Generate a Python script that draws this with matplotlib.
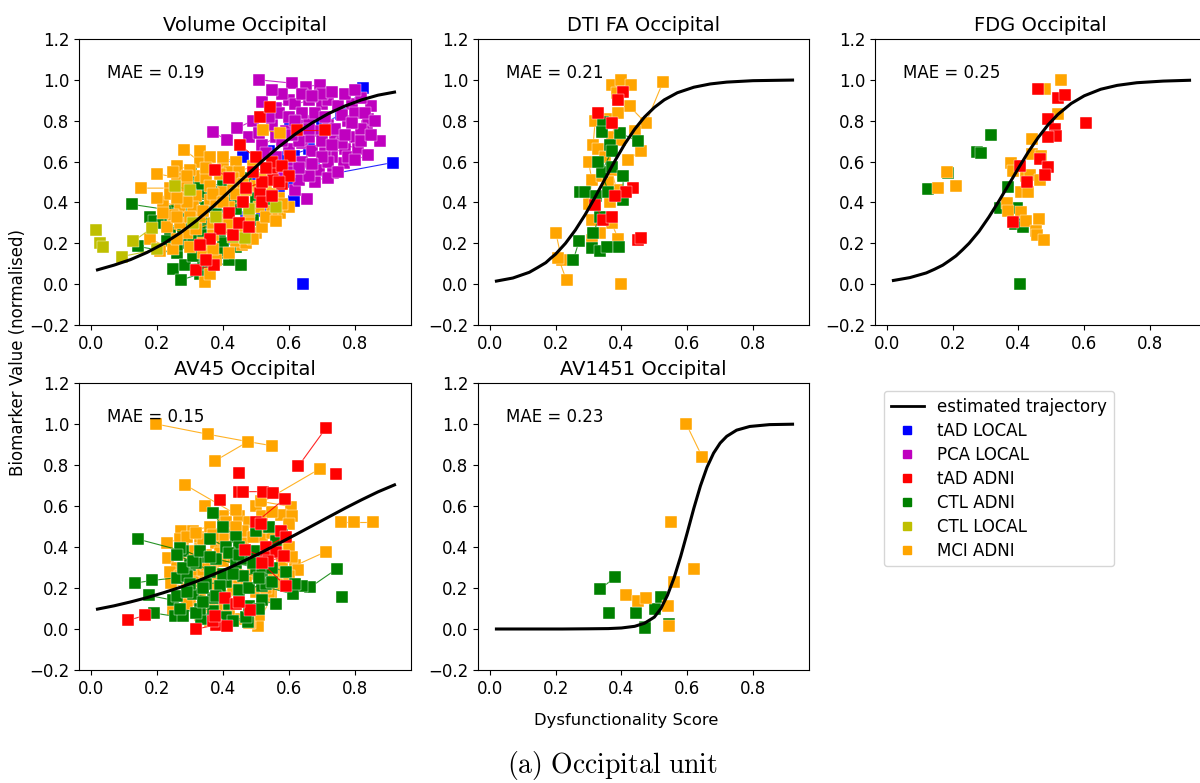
import matplotlib.pyplot as plt
from matplotlib.lines import Line2D

# ---- estimated trajectories ----
vol_curve_x = [0.02, 0.07, 0.12, 0.17, 0.22, 0.27, 0.32, 0.37, 0.42, 0.47,
               0.52, 0.57, 0.62, 0.67, 0.72, 0.77, 0.82, 0.87, 0.92]
vol_curve_y = [0.070, 0.093, 0.120, 0.155, 0.198, 0.250, 0.311, 0.380, 0.455, 0.530,
               0.604, 0.673, 0.735, 0.789, 0.835, 0.872, 0.902, 0.925, 0.940]

dti_curve_x = [0.02, 0.07, 0.12, 0.145, 0.17, 0.185, 0.20, 0.23, 0.26, 0.29, 0.32, 0.35, 0.38,
               0.41, 0.44, 0.47, 0.50, 0.53, 0.57, 0.62, 0.67, 0.72, 0.80, 0.92]
dti_curve_y = [0.015, 0.030, 0.058, 0.081, 0.105, 0.127, 0.147, 0.200, 0.265, 0.341, 0.426, 0.515, 0.603,
               0.686, 0.758, 0.818, 0.865, 0.902, 0.937, 0.964, 0.980, 0.989, 0.996, 0.999]

fdg_curve_x = [0.02, 0.07, 0.12, 0.145, 0.17, 0.19, 0.21, 0.23, 0.25, 0.28, 0.31, 0.34, 0.37, 0.40,
               0.43, 0.46, 0.49, 0.52, 0.56, 0.60, 0.65, 0.70, 0.76, 0.84, 0.92]
fdg_curve_y = [0.018, 0.032, 0.055, 0.073, 0.093, 0.115, 0.138, 0.168, 0.200, 0.258, 0.328, 0.405, 0.486,
               0.568, 0.647, 0.718, 0.780, 0.831, 0.884, 0.922, 0.954, 0.973, 0.986, 0.994, 0.998]

av45_curve_x = [0.02, 0.07, 0.12, 0.17, 0.22, 0.27, 0.32, 0.37, 0.42, 0.47,
                0.52, 0.57, 0.62, 0.67, 0.72, 0.77, 0.82, 0.87, 0.92]
av45_curve_y = [0.097, 0.113, 0.132, 0.153, 0.177, 0.203, 0.232, 0.265, 0.299, 0.337,
                0.376, 0.418, 0.460, 0.503, 0.546, 0.589, 0.630, 0.669, 0.703]

av1451_curve_x = [0.02, 0.12, 0.22, 0.30, 0.36, 0.40, 0.44, 0.47, 0.50, 0.52, 0.54, 0.56,
                  0.58, 0.60, 0.62, 0.64, 0.66, 0.68, 0.70, 0.72, 0.75, 0.79, 0.85, 0.92]
av1451_curve_y = [0.000, 0.000, 0.000, 0.001, 0.002, 0.005, 0.013, 0.028, 0.058, 0.100, 0.165, 0.250,
                  0.354, 0.470, 0.589, 0.698, 0.789, 0.858, 0.907, 0.940, 0.970, 0.988, 0.997, 0.999]

# ---- subjects: each inner list is one subject's visits (x, y) ----
vol_ctl_local = [[(0.015, 0.265)], [(0.028, 0.20), (0.038, 0.18)], [(0.094, 0.135), (0.20, 0.17)],
                 [(0.129, 0.21), (0.185, 0.275)], [(0.255, 0.48), (0.30, 0.46)],
                 [(0.43, 0.23), (0.467, 0.225)], [(0.48, 0.37), (0.56, 0.38)], [(0.31, 0.30), (0.38, 0.33)]]
vol_ctl_adni = [[(0.126, 0.39), (0.25, 0.36)], [(0.142, 0.185), (0.26, 0.15)],
                [(0.178, 0.33), (0.192, 0.31), (0.30, 0.30)], [(0.25, 0.073), (0.273, 0.02), (0.33, 0.05)],
                [(0.284, 0.095), (0.34, 0.10)], [(0.36, 0.055), (0.419, 0.12), (0.455, 0.095)],
                [(0.304, 0.55), (0.34, 0.50), (0.40, 0.48)], [(0.26, 0.40), (0.32, 0.42), (0.36, 0.38)],
                [(0.28, 0.32), (0.35, 0.30), (0.41, 0.34)], [(0.24, 0.25), (0.30, 0.24), (0.33, 0.20)],
                [(0.37, 0.45), (0.43, 0.42), (0.46, 0.44)], [(0.30, 0.36), (0.38, 0.35), (0.44, 0.37)],
                [(0.27, 0.47), (0.35, 0.46)], [(0.39, 0.25), (0.45, 0.28)], [(0.49, 0.315), (0.43, 0.30)],
                [(0.33, 0.26), (0.40, 0.20), (0.36, 0.17)], [(0.22, 0.30), (0.28, 0.27)],
                [(0.42, 0.50), (0.47, 0.52)], [(0.31, 0.14), (0.35, 0.12)], [(0.50, 0.42), (0.54, 0.40)],
                [(0.24, 0.33), (0.27, 0.35)], [(0.29, 0.42), (0.33, 0.44)], [(0.32, 0.33), (0.35, 0.38)],
                [(0.28, 0.20), (0.31, 0.22)], [(0.38, 0.40), (0.41, 0.43)], [(0.34, 0.24), (0.37, 0.27)],
                [(0.30, 0.50), (0.33, 0.49)], [(0.23, 0.21), (0.26, 0.19)], [(0.40, 0.15), (0.44, 0.18)]]
vol_mci_adni = [[(0.283, 0.657), (0.33, 0.60), (0.40, 0.58)], [(0.199, 0.54), (0.27, 0.52)],
                [(0.153, 0.47), (0.24, 0.47), (0.30, 0.44)], [(0.18, 0.22), (0.25, 0.17), (0.21, 0.16)],
                [(0.346, 0.01), (0.36, 0.05)], [(0.572, 0.347), (0.60, 0.38), (0.55, 0.36)],
                [(0.458, 0.19), (0.44, 0.21)], [(0.523, 0.755), (0.574, 0.74)],
                [(0.22, 0.40), (0.27, 0.38), (0.25, 0.34)], [(0.23, 0.28), (0.29, 0.25), (0.26, 0.22)],
                [(0.33, 0.53), (0.37, 0.56), (0.35, 0.52)], [(0.40, 0.62), (0.44, 0.60), (0.42, 0.55)],
                [(0.28, 0.45), (0.32, 0.43), (0.36, 0.41)], [(0.38, 0.40), (0.42, 0.38), (0.46, 0.41)],
                [(0.30, 0.18), (0.34, 0.20), (0.37, 0.24)], [(0.41, 0.27), (0.44, 0.30), (0.48, 0.33)],
                [(0.50, 0.48), (0.53, 0.45), (0.57, 0.42)], [(0.45, 0.55), (0.49, 0.58), (0.52, 0.52)],
                [(0.26, 0.58), (0.30, 0.56)], [(0.33, 0.33), (0.37, 0.30), (0.32, 0.27)],
                [(0.47, 0.20), (0.50, 0.25), (0.49, 0.22)], [(0.36, 0.48), (0.40, 0.45), (0.43, 0.47)],
                [(0.24, 0.44), (0.20, 0.42)], [(0.55, 0.44), (0.58, 0.39)], [(0.38, 0.12), (0.42, 0.15)],
                [(0.33, 0.65), (0.36, 0.62)], [(0.26, 0.50), (0.29, 0.48)], [(0.31, 0.38), (0.34, 0.36)],
                [(0.37, 0.44), (0.40, 0.40)], [(0.43, 0.52), (0.46, 0.49)], [(0.27, 0.30), (0.30, 0.33)],
                [(0.34, 0.15), (0.37, 0.17)], [(0.44, 0.44), (0.47, 0.46)], [(0.25, 0.55), (0.29, 0.53)],
                [(0.22, 0.35), (0.26, 0.33)], [(0.39, 0.32), (0.42, 0.30)], [(0.51, 0.38), (0.48, 0.36)],
                [(0.29, 0.40), (0.26, 0.42)], [(0.35, 0.57), (0.39, 0.54)], [(0.46, 0.25), (0.52, 0.28)],
                [(0.53, 0.33), (0.56, 0.31)]]
vol_tad_adni = [[(0.513, 0.82), (0.543, 0.866)], [(0.452, 0.68), (0.50, 0.62)], [(0.376, 0.56), (0.42, 0.52)],
                [(0.624, 0.755), (0.71, 0.755)], [(0.604, 0.625), (0.55, 0.57)],
                [(0.32, 0.07), (0.372, 0.095), (0.35, 0.12)], [(0.513, 0.445), (0.553, 0.51), (0.58, 0.49)],
                [(0.39, 0.27), (0.43, 0.24)], [(0.47, 0.47), (0.52, 0.50)], [(0.55, 0.60), (0.58, 0.58)],
                [(0.42, 0.35), (0.46, 0.40)], [(0.49, 0.55), (0.53, 0.57)], [(0.45, 0.30), (0.48, 0.28)],
                [(0.52, 0.40), (0.55, 0.43)], [(0.60, 0.53), (0.57, 0.50)], [(0.36, 0.22), (0.33, 0.19)]]
vol_tad_local = [[(0.826, 0.962), (0.758, 0.832), (0.70, 0.78)], [(0.914, 0.595), (0.60, 0.50)],
                 [(0.642, 0.0)], [(0.604, 0.804), (0.65, 0.72)], [(0.614, 0.625), (0.634, 0.527), (0.58, 0.55)],
                 [(0.675, 0.576), (0.62, 0.56)], [(0.614, 0.405), (0.56, 0.42)], [(0.40, 0.59), (0.46, 0.62)],
                 [(0.47, 0.33), (0.43, 0.22)], [(0.50, 0.62), (0.54, 0.65)], [(0.44, 0.45), (0.50, 0.50)],
                 [(0.52, 0.36), (0.57, 0.44)], [(0.48, 0.27), (0.41, 0.31)], [(0.58, 0.62), (0.66, 0.66)]]
vol_pca_local = [[(0.51, 1.0), (0.609, 0.984)], [(0.652, 0.967), (0.693, 0.976)], [(0.37, 0.744), (0.412, 0.706)],
                 [(0.442, 0.763), (0.49, 0.80)], [(0.655, 0.416), (0.62, 0.46)], [(0.877, 0.70), (0.80, 0.72)],
                 [(0.836, 0.772), (0.78, 0.80)], [(0.766, 0.592), (0.73, 0.62)], [(0.735, 0.543), (0.68, 0.50)],
                 [(0.52, 0.89), (0.56, 0.86), (0.60, 0.90)], [(0.62, 0.88), (0.66, 0.90), (0.70, 0.88)],
                 [(0.72, 0.90), (0.75, 0.87), (0.79, 0.88)], [(0.80, 0.84), (0.84, 0.81), (0.82, 0.76)],
                 [(0.55, 0.78), (0.59, 0.75), (0.63, 0.78)], [(0.66, 0.80), (0.69, 0.75), (0.72, 0.78)],
                 [(0.74, 0.70), (0.77, 0.66), (0.71, 0.64)], [(0.60, 0.66), (0.64, 0.69), (0.67, 0.65)],
                 [(0.56, 0.72), (0.52, 0.68)], [(0.78, 0.62), (0.81, 0.66), (0.76, 0.69)],
                 [(0.69, 0.56), (0.72, 0.60)], [(0.64, 0.60), (0.61, 0.57)], [(0.57, 0.84), (0.54, 0.82)],
                 [(0.85, 0.87), (0.82, 0.91)], [(0.63, 0.51), (0.66, 0.53)], [(0.48, 0.72), (0.51, 0.74)],
                 [(0.70, 0.93), (0.73, 0.94)], [(0.58, 0.93), (0.55, 0.95)], [(0.60, 0.82), (0.64, 0.84)],
                 [(0.68, 0.84), (0.71, 0.82)], [(0.76, 0.83), (0.79, 0.79)], [(0.74, 0.76), (0.77, 0.73)],
                 [(0.70, 0.70), (0.73, 0.68)], [(0.66, 0.72), (0.63, 0.70)], [(0.58, 0.70), (0.61, 0.73)],
                 [(0.82, 0.70), (0.85, 0.73)], [(0.80, 0.61), (0.84, 0.63)], [(0.70, 0.62), (0.67, 0.59)],
                 [(0.72, 0.52), (0.75, 0.55)], [(0.60, 0.55), (0.63, 0.57)], [(0.53, 0.64), (0.56, 0.62)],
                 [(0.77, 0.93), (0.80, 0.95)], [(0.64, 0.93), (0.67, 0.92)], [(0.83, 0.84), (0.86, 0.80)],
                 [(0.54, 0.54), (0.58, 0.52)], [(0.62, 0.80), (0.66, 0.76)]]

dti_mci_adni = [[(0.201, 0.25), (0.218, 0.12)], [(0.208, 0.13), (0.233, 0.018)], [(0.40, 0.0)],
                [(0.39, 0.222), (0.37, 0.30)], [(0.526, 0.989), (0.474, 0.788)],
                [(0.37, 0.976), (0.40, 1.0), (0.43, 0.976)], [(0.385, 0.935), (0.425, 0.87), (0.474, 0.788)],
                [(0.44, 0.75), (0.46, 0.654), (0.42, 0.61)], [(0.314, 0.68), (0.32, 0.80), (0.355, 0.81)],
                [(0.39, 0.84), (0.37, 0.72), (0.395, 0.706)], [(0.30, 0.60), (0.31, 0.51), (0.30, 0.39)],
                [(0.31, 0.315), (0.334, 0.25), (0.31, 0.217)], [(0.37, 0.56), (0.385, 0.462), (0.365, 0.40)],
                [(0.33, 0.66), (0.35, 0.62)], [(0.34, 0.53), (0.36, 0.50)]]
dti_ctl_adni = [[(0.274, 0.453), (0.289, 0.453)], [(0.254, 0.12), (0.271, 0.21)],
                [(0.309, 0.176), (0.334, 0.163), (0.355, 0.184)], [(0.392, 0.184)],
                [(0.344, 0.796), (0.34, 0.747)], [(0.365, 0.68), (0.37, 0.65), (0.34, 0.55)],
                [(0.395, 0.74), (0.45, 0.70)], [(0.37, 0.575), (0.405, 0.527), (0.405, 0.413)],
                [(0.324, 0.43), (0.334, 0.33), (0.314, 0.25)], [(0.33, 0.60), (0.36, 0.45)]]
dti_tad_adni = [[(0.33, 0.837), (0.37, 0.788)], [(0.405, 0.943), (0.39, 0.90)],
                [(0.435, 0.47), (0.415, 0.453)], [(0.45, 0.217), (0.46, 0.225)],
                [(0.32, 0.388), (0.344, 0.315), (0.37, 0.33)], [(0.38, 0.43)]]

fdg_ctl_adni = [[(0.124, 0.467)], [(0.187, 0.543)], [(0.273, 0.646)], [(0.285, 0.641)], [(0.318, 0.731)],
                [(0.369, 0.475)], [(0.343, 0.375)], [(0.396, 0.372)], [(0.389, 0.294)], [(0.414, 0.279)],
                [(0.404, 0.002)]]
fdg_mci_adni = [[(0.155, 0.47)], [(0.182, 0.548)], [(0.21, 0.478)], [(0.376, 0.592)], [(0.382, 0.556)],
                [(0.364, 0.396)], [(0.368, 0.356)], [(0.44, 0.711)], [(0.44, 0.636)], [(0.47, 0.628)],
                [(0.409, 0.453)], [(0.429, 0.453)], [(0.424, 0.527)], [(0.434, 0.533)], [(0.465, 0.51)],
                [(0.409, 0.351)], [(0.424, 0.307)], [(0.462, 0.32)], [(0.452, 0.258)], [(0.457, 0.241)],
                [(0.479, 0.214)], [(0.48, 0.954)], [(0.53, 1.0)], [(0.521, 0.832)]]
fdg_tad_adni = [[(0.46, 0.956)], [(0.52, 0.91)], [(0.54, 0.927)], [(0.49, 0.809)], [(0.51, 0.759)],
                [(0.515, 0.723)], [(0.49, 0.718)], [(0.606, 0.788)], [(0.404, 0.579)], [(0.465, 0.612)],
                [(0.49, 0.571)], [(0.48, 0.533)], [(0.426, 0.502)], [(0.384, 0.302)]]

av45_mci_adni = [[(0.197, 1.0), (0.355, 0.95), (0.476, 0.914), (0.549, 0.894)], [(0.377, 0.821), (0.476, 0.914)],
                 [(0.286, 0.703), (0.45, 0.55)], [(0.693, 0.781), (0.50, 0.60)],
                 [(0.758, 0.524), (0.796, 0.524), (0.856, 0.524)], [(0.713, 0.378), (0.62, 0.31), (0.627, 0.289)],
                 [(0.274, 0.476), (0.33, 0.45), (0.38, 0.42)], [(0.347, 0.60), (0.40, 0.55), (0.44, 0.58)],
                 [(0.516, 0.622), (0.607, 0.597), (0.576, 0.557)], [(0.234, 0.346), (0.30, 0.33), (0.35, 0.36)],
                 [(0.244, 0.224), (0.29, 0.20), (0.33, 0.26)], [(0.546, 0.159), (0.506, 0.016), (0.481, 0.029)],
                 [(0.38, 0.029), (0.42, 0.08)], [(0.31, 0.48), (0.36, 0.50), (0.42, 0.47)],
                 [(0.26, 0.30), (0.31, 0.28), (0.37, 0.31)], [(0.28, 0.40), (0.33, 0.39), (0.39, 0.37)],
                 [(0.40, 0.44), (0.46, 0.42), (0.52, 0.45)], [(0.30, 0.14), (0.35, 0.12), (0.41, 0.16)],
                 [(0.44, 0.30), (0.49, 0.27), (0.54, 0.25)], [(0.33, 0.18), (0.38, 0.21)],
                 [(0.47, 0.36), (0.53, 0.34), (0.57, 0.38)], [(0.25, 0.10), (0.29, 0.12)],
                 [(0.44, 0.12), (0.49, 0.09), (0.51, 0.07)], [(0.36, 0.26), (0.42, 0.24), (0.45, 0.21)],
                 [(0.55, 0.47), (0.58, 0.43), (0.60, 0.40)], [(0.23, 0.42), (0.27, 0.44)],
                 [(0.58, 0.22), (0.54, 0.18)], [(0.39, 0.06), (0.36, 0.04)], [(0.57, 0.28), (0.60, 0.26)],
                 [(0.48, 0.52), (0.52, 0.50)], [(0.61, 0.55), (0.60, 0.51)], [(0.27, 0.36), (0.30, 0.38)],
                 [(0.34, 0.44), (0.37, 0.46)], [(0.40, 0.33), (0.43, 0.35)], [(0.46, 0.48), (0.49, 0.45)],
                 [(0.31, 0.23), (0.34, 0.29)], [(0.43, 0.19), (0.47, 0.23)], [(0.50, 0.18), (0.53, 0.20)],
                 [(0.35, 0.31), (0.38, 0.27)], [(0.24, 0.28), (0.27, 0.26)], [(0.52, 0.55), (0.55, 0.57)],
                 [(0.41, 0.52), (0.44, 0.50)], [(0.29, 0.45), (0.32, 0.47)], [(0.58, 0.33), (0.61, 0.35)],
                 [(0.45, 0.05), (0.48, 0.03)], [(0.39, 0.11), (0.42, 0.09)], [(0.33, 0.07), (0.36, 0.10)]]
av45_ctl_adni = [[(0.143, 0.438), (0.28, 0.38)], [(0.133, 0.224), (0.186, 0.237), (0.26, 0.25)],
                 [(0.176, 0.164), (0.25, 0.14)], [(0.19, 0.078), (0.254, 0.062), (0.279, 0.062)],
                 [(0.746, 0.294), (0.664, 0.203), (0.639, 0.211)], [(0.761, 0.157)],
                 [(0.612, 0.17), (0.52, 0.21), (0.45, 0.19)], [(0.476, 0.032), (0.41, 0.06)],
                 [(0.27, 0.394), (0.33, 0.35), (0.30, 0.31)], [(0.37, 0.565), (0.40, 0.50), (0.44, 0.45)],
                 [(0.335, 0.049), (0.37, 0.09), (0.33, 0.10)], [(0.26, 0.36), (0.32, 0.32), (0.36, 0.28)],
                 [(0.29, 0.26), (0.35, 0.22), (0.41, 0.23)], [(0.38, 0.34), (0.44, 0.32), (0.50, 0.30)],
                 [(0.31, 0.17), (0.37, 0.15), (0.42, 0.12)], [(0.45, 0.40), (0.50, 0.38), (0.56, 0.41)],
                 [(0.27, 0.10), (0.32, 0.08)], [(0.40, 0.27), (0.46, 0.26), (0.52, 0.28)],
                 [(0.50, 0.48), (0.54, 0.50)], [(0.55, 0.30), (0.59, 0.28), (0.62, 0.22)],
                 [(0.43, 0.04), (0.47, 0.06)], [(0.36, 0.44), (0.41, 0.40)], [(0.52, 0.14), (0.56, 0.12)],
                 [(0.30, 0.22), (0.34, 0.20)], [(0.48, 0.20), (0.53, 0.22)], [(0.28, 0.30), (0.31, 0.33)],
                 [(0.39, 0.21), (0.43, 0.27)], [(0.46, 0.34), (0.49, 0.32)], [(0.34, 0.13), (0.38, 0.16)],
                 [(0.26, 0.16), (0.29, 0.18)], [(0.51, 0.25), (0.55, 0.23)], [(0.42, 0.37), (0.45, 0.36)],
                 [(0.48, 0.11), (0.51, 0.10)], [(0.33, 0.38), (0.36, 0.35)], [(0.58, 0.46), (0.56, 0.43)]]
av45_tad_adni = [[(0.113, 0.042), (0.165, 0.067)], [(0.32, 0.0), (0.38, 0.02)], [(0.412, 0.013), (0.37, 0.04)],
                 [(0.629, 0.795), (0.713, 0.982)], [(0.743, 0.755)], [(0.448, 0.763)],
                 [(0.45, 0.67), (0.46, 0.67), (0.521, 0.67), (0.551, 0.662)], [(0.39, 0.627)],
                 [(0.587, 0.635), (0.50, 0.52)], [(0.576, 0.476), (0.59, 0.451), (0.53, 0.40)], [(0.516, 0.513)],
                 [(0.466, 0.386), (0.53, 0.35)], [(0.561, 0.378), (0.585, 0.354), (0.536, 0.33)],
                 [(0.405, 0.151), (0.44, 0.12)], [(0.375, 0.062)], [(0.481, 0.094), (0.45, 0.13)],
                 [(0.59, 0.21), (0.52, 0.32)]]

av1451_mci_adni = [[(0.597, 1.0), (0.645, 0.841)], [(0.552, 0.524)], [(0.62, 0.293)], [(0.56, 0.228)],
                   [(0.415, 0.166)], [(0.45, 0.138), (0.476, 0.15)], [(0.541, 0.112)], [(0.545, 0.015)]]
av1451_ctl_adni = [[(0.336, 0.195), (0.38, 0.252)], [(0.362, 0.076)], [(0.443, 0.08)],
                   [(0.471, 0.011), (0.471, 0.004)], [(0.502, 0.096), (0.519, 0.154)], [(0.543, 0.024)]]

group_labels = ["tAD LOCAL", "PCA LOCAL", "tAD ADNI", "CTL ADNI", "CTL LOCAL", "MCI ADNI"]
group_colors = ["b", "m", "r", "g", "y", "orange"]
col = dict(zip(group_labels, group_colors))

W, H = 1200, 783
fig = plt.figure(figsize=(12, 7.83), dpi=100)


def px_axes(left, top, right, bottom):
    return fig.add_axes([left / W, 1 - bottom / H, (right - left) / W, (bottom - top) / H])


def draw_subjects(ax, subjects, color):
    for subj in subjects:
        xs = [p[0] for p in subj]
        ys = [p[1] for p in subj]
        ax.plot(xs, ys, '-', color=color, lw=0.8, alpha=0.85)
        ax.plot(xs, ys, 's', color=color, ms=8, mec='white', mew=0.3)


panels = [
    ("Volume Occipital", "MAE = 0.19", (79, 39, 411, 325), vol_curve_x, vol_curve_y,
     [(vol_tad_local, "tAD LOCAL"), (vol_pca_local, "PCA LOCAL"), (vol_ctl_adni, "CTL ADNI"),
      (vol_mci_adni, "MCI ADNI"), (vol_ctl_local, "CTL LOCAL"), (vol_tad_adni, "tAD ADNI")]),
    ("DTI FA Occipital", "MAE = 0.21", (478, 39, 809, 325), dti_curve_x, dti_curve_y,
     [(dti_mci_adni, "MCI ADNI"), (dti_ctl_adni, "CTL ADNI"), (dti_tad_adni, "tAD ADNI")]),
    ("FDG Occipital", "MAE = 0.25", (875, 39, 1206, 325), fdg_curve_x, fdg_curve_y,
     [(fdg_ctl_adni, "CTL ADNI"), (fdg_mci_adni, "MCI ADNI"), (fdg_tad_adni, "tAD ADNI")]),
    ("AV45 Occipital", "MAE = 0.15", (79, 383, 411, 670), av45_curve_x, av45_curve_y,
     [(av45_mci_adni, "MCI ADNI"), (av45_ctl_adni, "CTL ADNI"), (av45_tad_adni, "tAD ADNI")]),
    ("AV1451 Occipital", "MAE = 0.23", (478, 383, 809, 670), av1451_curve_x, av1451_curve_y,
     [(av1451_ctl_adni, "CTL ADNI"), (av1451_mci_adni, "MCI ADNI")]),
]

for title, mae, box, cx, cy, groups in panels:
    ax = px_axes(*box)
    for subjects, name in groups:
        draw_subjects(ax, subjects, col[name])
    ax.plot(cx, cy, color='k', lw=2.2, zorder=5)
    ax.set_xlim(-0.036, 0.97)
    ax.set_ylim(-0.2, 1.2)
    ax.set_xticks([0.0, 0.2, 0.4, 0.6, 0.8])
    ax.set_yticks([-0.2, 0.0, 0.2, 0.4, 0.6, 0.8, 1.0, 1.2])
    ax.tick_params(labelsize=12)
    ax.set_title(title, fontsize=14)
    ax.text(0.085, 0.88, mae, transform=ax.transAxes, fontsize=12, va='center', zorder=6)

fig.text(18 / W, 1 - 353 / H, "Biomarker Value (normalised)", rotation=90,
         ha='center', va='center', fontsize=12)
fig.text(626 / W, 1 - 720 / H, "Dysfunctionality Score", ha='center', va='center', fontsize=11.8)
plt.rcParams['mathtext.fontset'] = 'cm'
fig.text(612 / W, 1 - 766 / H, r"$\mathrm{(a)\ Occipital\ unit}$", ha='center', va='center', fontsize=20)

handles = [Line2D([], [], color='k', lw=2, label="estimated trajectory")]
for name in group_labels:
    handles.append(Line2D([], [], ls='none', marker='s', color=col[name], ms=6, label=name))
fig.legend(handles=handles, loc='upper left', bbox_to_anchor=(884 / W, 1 - 391 / H),
           borderaxespad=0, labelspacing=0.36, fontsize=12, frameon=True)

fig.savefig("out.png", dpi=100)
